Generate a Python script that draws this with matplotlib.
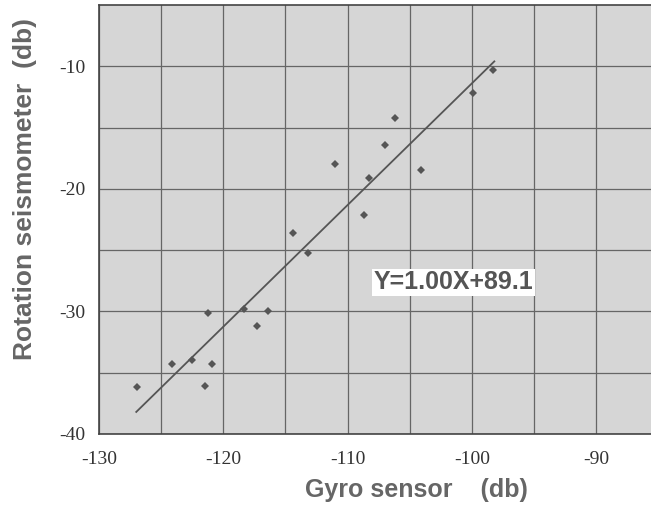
import matplotlib.pyplot as plt

plt.rcParams['axes.unicode_minus'] = False

# 読み取ったデータ
gyro = [-126.9, -124.1, -122.5, -121.2, -121.5, -120.9, -118.3, -117.3, -116.4,
        -114.4, -113.2, -111.0, -108.7, -108.3, -107.0, -106.2, -104.1, -99.9, -98.3]
rotation = [-36.2, -34.3, -34.0, -30.1, -36.1, -34.3, -29.8, -31.2, -30.0,
            -23.6, -25.2, -18.0, -22.1, -19.1, -16.4, -14.2, -18.5, -12.2, -10.3]
# 回帰直線（図から読み取った端点）
fit_x = [-127.0, -98.2]
fit_y = [-38.2, -9.6]
fit_label = 'Y=1.00X+89.1'
xticks = [-130, -120, -110, -100, -90]
yticks = [-40, -30, -20, -10]

fig = plt.figure(figsize=(6.51, 5.05), dpi=100)
ax = fig.add_axes([0.152, 0.1406, 0.848, 0.8495])
ax.set_facecolor('#d6d6d6')

ax.plot(fit_x, fit_y, color='#555555', lw=1.3)
ax.plot(gyro, rotation, 'D', color='#555555', ms=4, mew=0)

ax.set_xlim(-130, -85.6)
ax.set_ylim(-40, -5)
ax.set_xticks(xticks)
ax.set_yticks(yticks)
ax.set_xticks(range(-125, -85, 10), minor=True)
ax.set_yticks(range(-35, -5, 10), minor=True)
ax.grid(True, which='both', color='#666666', lw=0.9)
ax.set_axisbelow(True)
ax.tick_params(which='both', length=0)
ax.tick_params(axis='x', pad=12)
ax.tick_params(axis='y', pad=10)
for lab in ax.get_xticklabels() + ax.get_yticklabels():
    lab.set_fontfamily('Liberation Serif')
    lab.set_fontsize(14)
    lab.set_color('#333333')
for s in ax.spines.values():
    s.set_color('#444444')
    s.set_linewidth(1.2)
ax.spines['right'].set_visible(False)

ax.text(-101.5, -27.6, fit_label, ha='center', va='center',
        fontsize=18, fontweight='bold', family='Liberation Sans', color='#555555',
        bbox=dict(facecolor='white', edgecolor='none', pad=1))

fig.text(0.639, 0.030, 'Gyro sensor    (db)', ha='center', va='center',
         fontsize=18, fontweight='bold', family='Liberation Sans', color='#666666')
fig.text(0.038, 0.625, 'Rotation seismometer  (db)', ha='center', va='center',
         rotation=90, fontsize=19, fontweight='bold', family='Liberation Sans',
         color='#666666')

fig.savefig('out.png', dpi=100)
